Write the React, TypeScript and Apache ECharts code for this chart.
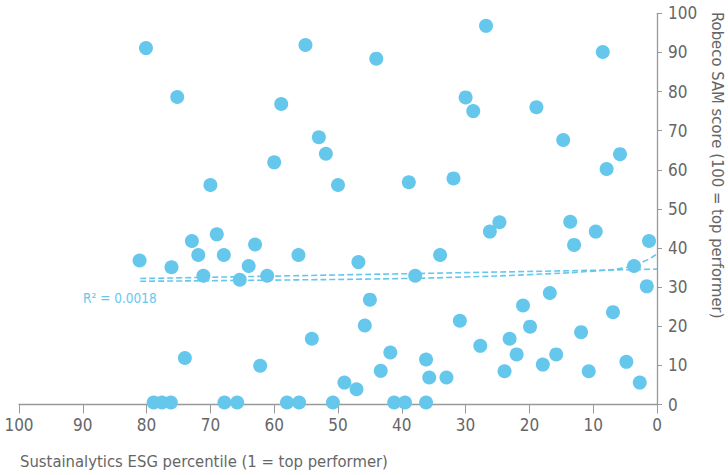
import React, { useEffect, useRef } from "react";
import * as echarts from "echarts";

// Sustainalytics ESG percentile (x) vs Robeco SAM score (y)
const esgPercentile: number[] = [
  80.1, 55.1, 75.2, 44.0, 26.8, 8.5, 58.9, 53.0, 51.9, 60.0,
  70.0, 50.0, 30.0, 28.8, 18.9, 14.7, 5.8, 7.9, 38.9, 31.9,
  24.7, 26.2, 13.6, 9.6, 1.25, 13.0, 34.0, 37.9, 3.6, 1.6,
  16.8, 21.0, 6.9, 30.9, 19.9, 11.9, 23.1, 27.7, 22.0, 15.8,
  41.8, 36.2, 4.8, 17.9, 43.3, 23.9, 10.7, 35.7, 33.0, 2.7,
  41.2, 39.5, 36.2, 45.0, 45.8, 46.8, 81.1, 76.1, 72.9, 71.9,
  69.0, 67.9, 63.0, 64.0, 56.2, 71.1, 65.4, 61.1, 74.0, 62.2,
  54.1, 49.0, 47.1, 78.9, 77.6, 76.2, 67.8, 65.8, 58.0, 56.1,
  50.8,
];
const samScore: number[] = [
  91.1, 91.9, 78.6, 88.4, 96.8, 90.1, 76.8, 68.3, 64.1, 61.9,
  56.1, 56.1, 78.5, 75.0, 76.0, 67.6, 64.0, 60.2, 56.8, 57.8,
  46.6, 44.2, 46.7, 44.2, 41.8, 40.8, 38.2, 32.9, 35.4, 30.2,
  28.5, 25.3, 23.6, 21.4, 19.9, 18.5, 16.8, 15.0, 12.8, 12.8,
  13.3, 11.5, 10.9, 10.2, 8.6, 8.5, 8.5, 6.9, 6.9, 5.6,
  0.5, 0.5, 0.5, 26.8, 20.2, 36.4, 36.8, 35.1, 41.8, 38.2,
  43.5, 38.2, 40.9, 35.4, 38.2, 32.9, 31.9, 32.9, 11.9, 9.9,
  16.8, 5.6, 3.9, 0.5, 0.5, 0.5, 0.5, 0.5, 0.5, 0.5,
  0.5,
];

// Trend lines
const linearTrendX: number[] = [81, 0];
const linearTrendY: number[] = [32.2, 34.6];
const curveTrendX: number[] = [81, 60, 40, 30, 20, 10, 5, 2, 0];
const curveTrendY: number[] = [31.5, 31.8, 32.2, 32.6, 33.2, 34.1, 35.0, 36.6, 38.5];

const xTicks: number[] = [0, 10, 20, 30, 40, 50, 60, 70, 80, 90, 100];
const yTicks: number[] = [0, 10, 20, 30, 40, 50, 60, 70, 80, 90, 100];

const xTitle = "Sustainalytics ESG percentile (1 = top performer)";
const yTitle = "Robeco SAM score (100 = top performer)";
const r2Label = "R\u00B2 = 0.0018";

const FONT = '"Liberation Sans Narrow", "DejaVu Sans Condensed", "Roboto", sans-serif';
const BLUE = "#66C7EC";
const GRAY = "#666666";

export default function App() {
  const ref = useRef<HTMLDivElement>(null);
  useEffect(() => {
    if (!ref.current) return;
    const chart = echarts.init(ref.current, undefined, { renderer: "svg" });
    const scatter = esgPercentile.map((x, i) => [x, samScore[i]]);
    const lin = linearTrendX.map((x, i) => [x, linearTrendY[i]]);
    const curve = curveTrendX.map((x, i) => [x, curveTrendY[i]]);
    chart.setOption({
      animation: false,
      backgroundColor: "#ffffff",
      textStyle: { fontFamily: FONT },
      grid: { left: 19, right: 71, top: 13.3, bottom: 70.5, containLabel: false },
      xAxis: {
        type: "value",
        inverse: true,
        min: xTicks[0],
        max: xTicks[xTicks.length - 1],
        interval: 10,
        axisLine: { show: true, lineStyle: { color: "#999999", width: 1.3 } },
        axisTick: { show: true, length: 9, lineStyle: { color: "#999999" } },
        axisLabel: { color: GRAY, fontSize: 17, fontFamily: FONT, margin: 12 },
        splitLine: { show: false },
      },
      yAxis: {
        type: "value",
        position: "right",
        min: yTicks[0],
        max: yTicks[yTicks.length - 1],
        interval: 10,
        axisLine: { show: true, lineStyle: { color: "#999999", width: 1.3 } },
        axisTick: { show: true, length: 5, inside: false, lineStyle: { color: "#999999" } },
        axisLabel: { color: GRAY, fontSize: 17, fontFamily: FONT, margin: 11 },
        splitLine: { show: false },
      },
      series: [
        {
          type: "line",
          data: lin,
          showSymbol: false,
          symbol: "none",
          lineStyle: { color: BLUE, width: 1.6, type: [6, 3] },
          z: 3,
        },
        {
          type: "line",
          data: curve,
          smooth: true,
          showSymbol: false,
          symbol: "none",
          lineStyle: { color: BLUE, width: 1.6, type: [6, 3] },
          z: 3,
        },
        {
          type: "scatter",
          data: scatter,
          symbol: "circle",
          symbolSize: 14,
          itemStyle: { color: BLUE, opacity: 1 },
          z: 4,
        },
      ],
      graphic: [
        {
          type: "text",
          left: 20,
          top: 453,
          style: { text: xTitle, fill: GRAY, font: `16.5px ${FONT}` },
        },
        {
          type: "text",
          x: 709,
          y: 12,
          rotation: -Math.PI / 2,
          style: { text: yTitle, fill: GRAY, font: `16.5px ${FONT}`, textAlign: "left", textVerticalAlign: "bottom" },
        },
        {
          type: "text",
          left: 83,
          top: 291,
          style: { text: r2Label, fill: BLUE, font: `13.5px ${FONT}` },
        },
      ],
    });
    return () => chart.dispose();
  }, []);
  return (
    <div
      ref={ref}
      style={{ position: "absolute", left: 0, top: 0, width: 728, height: 475 }}
    />
  );
}
